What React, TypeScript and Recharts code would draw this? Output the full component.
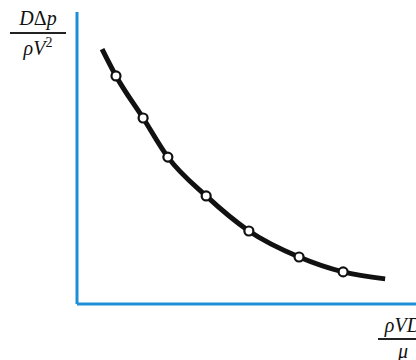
import { ComposedChart, Line, Scatter, XAxis, YAxis } from "recharts";

// smooth curve (start, through the measured points, end)
const curveX = [7.4, 11.5, 19.5, 26.8, 38.1, 50.7, 65.5, 78.5, 90.9];
const curveY = [87.3, 78.1, 63.7, 50.3, 37.0, 25.0, 16.1, 11.0, 8.6];

// measured points shown as open circles
const pointX = [11.5, 19.5, 26.8, 38.1, 50.7, 65.5, 78.5];
const pointY = [78.1, 63.7, 50.3, 37.0, 25.0, 16.1, 11.0];

const curve = curveX.map((x, i) => ({ x, y: curveY[i] }));
const points = pointX.map((x, i) => ({ x, y: pointY[i] }));

const AXIS = "#1c8fd6";
const serif = '"Liberation Serif", "DejaVu Serif", serif';

function OpenDot(props: any) {
  const { cx, cy } = props;
  if (cx == null || cy == null) return null;
  return <circle cx={cx} cy={cy} r={4.5} fill="#fff" stroke="#111" strokeWidth={2.2} />;
}

export default function App() {
  return (
    <div style={{ position: "absolute", left: 0, top: 0, width: 416, height: 360, background: "#fff" }}>
      <ComposedChart width={416} height={360} margin={{ top: 12, right: 0, bottom: 55, left: 76 }}>
        <XAxis
          type="number"
          dataKey="x"
          domain={[0, 100]}
          height={1}
          tick={false}
          tickLine={false}
          axisLine={{ stroke: AXIS, strokeWidth: 3 }}
        />
        <YAxis
          type="number"
          dataKey="y"
          domain={[0, 100]}
          width={1}
          tick={false}
          tickLine={false}
          axisLine={{ stroke: AXIS, strokeWidth: 3 }}
        />
        <Line
          data={curve}
          dataKey="y"
          type="monotone"
          stroke="#111"
          strokeWidth={5}
          dot={false}
          isAnimationActive={false}
        />
        <Scatter data={points} dataKey="y" shape={<OpenDot />} isAnimationActive={false} />
      </ComposedChart>

      {/* y label: D Δp / ρ V^2 */}
      <div style={{ position: "absolute", left: 10, top: 6, width: 56, textAlign: "center", fontFamily: serif, fontStyle: "italic", fontSize: 20, lineHeight: "24px", color: "#111" }}>
        <div>
          D<span style={{ fontStyle: "normal" }}>Δ</span>p
        </div>
        <div style={{ borderTop: "2px solid #222", marginTop: 2, paddingTop: 2 }}>
          ρV<sup style={{ fontStyle: "normal", fontSize: 14, lineHeight: 0 }}>2</sup>
        </div>
      </div>

      {/* x label: ρVD / μ */}
      <div style={{ position: "absolute", left: 378, top: 314, width: 50, textAlign: "center", fontFamily: serif, fontStyle: "italic", fontSize: 20, lineHeight: "22px", color: "#111" }}>
        <div>ρVD</div>
        <div style={{ borderTop: "2px solid #222", marginTop: 2, paddingTop: 0 }}>μ</div>
      </div>
    </div>
  );
}
